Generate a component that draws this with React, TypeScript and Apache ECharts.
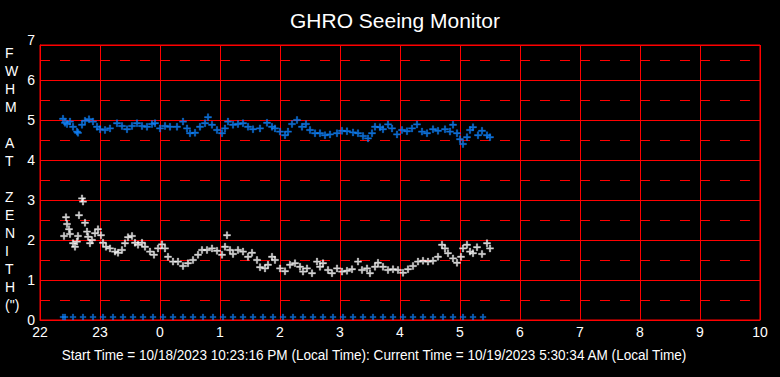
import React, { useEffect, useRef } from "react";
import * as echarts from "echarts";

// minutes after 22:00 (local time)
const blueTimes = [23,25,27,30,33,37,38,42,45,49,53,57,60,65,70,77,82,87,92,97,102,107,112,115,120,125,130,137,143,147,150,155,160,165,168,172,177,182,185,188,193,198,203,208,213,220,227,232,235,240,245,248,252,257,262,266,270,275,280,285,290,297,302,307,313,318,323,328,332,335,340,343,348,352,357,362,367,372,377,382,387,393,398,405,410,413,417,420,423,427,430,433,438,442,447,450];
const blueValues = [5.03,4.93,4.90,4.96,4.83,4.71,4.68,4.88,4.98,5.02,4.96,4.83,4.77,4.75,4.79,4.92,4.85,4.77,4.85,4.92,4.85,4.83,4.90,4.92,4.79,4.85,4.83,4.83,4.96,4.79,4.67,4.68,4.83,4.92,5.07,4.88,4.75,4.67,4.79,4.96,4.88,4.90,4.92,4.83,4.77,4.79,4.93,4.83,4.79,4.71,4.62,4.71,4.90,5.00,4.83,4.90,4.75,4.67,4.67,4.62,4.64,4.67,4.73,4.72,4.69,4.67,4.60,4.54,4.67,4.83,4.82,4.77,4.89,4.79,4.64,4.75,4.72,4.79,4.89,4.71,4.67,4.77,4.73,4.77,4.71,4.88,4.67,4.52,4.40,4.57,4.75,4.82,4.62,4.73,4.62,4.57];

const whiteTimes = [24,26,27,29,30,33,35,37,38,39,42,43,45,47,48,50,52,55,58,61,63,66,70,75,78,82,85,88,92,95,98,102,105,110,114,118,122,125,128,133,138,143,148,153,158,162,167,172,177,182,185,187,190,193,198,203,208,212,217,220,225,228,232,235,240,245,250,255,260,263,267,272,277,280,283,288,292,297,302,307,312,318,322,327,330,335,338,343,348,353,358,363,368,373,378,383,388,393,398,402,405,408,413,417,421,423,427,430,433,437,442,447,450];
const whiteValues = [2.10,2.57,2.40,2.27,2.15,1.92,1.83,1.96,2.10,2.62,3.04,2.96,2.43,2.21,2.08,1.92,2.00,2.17,2.27,2.12,1.93,1.83,1.79,1.71,1.68,1.75,1.92,2.07,2.10,1.93,1.88,1.93,1.83,1.71,1.63,1.79,1.89,1.79,1.58,1.46,1.46,1.35,1.42,1.50,1.63,1.75,1.75,1.79,1.73,1.63,1.83,2.12,1.75,1.65,1.75,1.71,1.58,1.68,1.50,1.32,1.29,1.38,1.58,1.50,1.29,1.22,1.38,1.42,1.33,1.21,1.29,1.17,1.46,1.33,1.42,1.25,1.17,1.29,1.21,1.23,1.27,1.46,1.25,1.29,1.17,1.33,1.43,1.33,1.25,1.27,1.25,1.18,1.27,1.35,1.46,1.48,1.46,1.48,1.58,1.88,1.79,1.67,1.54,1.43,1.58,1.79,1.88,1.71,1.67,1.82,1.65,1.92,1.79];

const baseTimes = [23,25,33,43,53,63,73,83,93,103,113,123,133,143,153,163,173,183,193,203,213,223,233,243,253,263,273,283,293,303,313,323,333,343,353,363,373,383,393,403,413,423,433,443];
const baseValue = 0;

const titleText = "GHRO Seeing Monitor";
const yTitleLines = ["F", "W", "H", "M", "", "A", "T", "", "Z", "E", "N", "I", "T", "H", "(\")"];
const footerText = "Start Time = 10/18/2023 10:23:16 PM (Local Time): Current Time = 10/19/2023 5:30:34 AM (Local Time)";
const startHour = 22;
const xMaxMinutes = 720;
const yTopLabel = "7";

const FONT = "'Liberation Sans', Arial, sans-serif";
const RED = "#ff0000";
const BLUE = "#1184ff";
const PLUS = "path://M2,0h1v2h2v1h-2v2h-1v-2h-2v-1h2z";

export default function App() {
  const ref = useRef<HTMLDivElement>(null);
  useEffect(() => {
    if (!ref.current) return;
    const chart = echarts.init(ref.current, null, { renderer: "svg" });
    const pairs = (t: number[], v: number[]) => t.map((x, i) => [x, v[i]]);
    chart.setOption({
      animation: false,
      backgroundColor: "#000",
      grid: { left: 40, top: 45, width: 720, height: 275, show: true, borderColor: RED, borderWidth: 1, backgroundColor: "transparent" },
      xAxis: {
        type: "value",
        min: 0,
        max: xMaxMinutes,
        interval: 60,
        axisLine: { show: true, lineStyle: { color: RED } },
        axisTick: { show: false },
        axisLabel: {
          color: "#fff",
          fontSize: 14,
          fontFamily: FONT,
          margin: 5,
          formatter: (v: number) => String((startHour + Math.round(v / 60)) % 24),
        },
        splitLine: { show: true, lineStyle: { color: RED, width: 1, type: "solid" } },
      },
      yAxis: [
        {
          type: "value",
          min: 0,
          max: 6.875,
          interval: 1,
          axisLine: { show: true, lineStyle: { color: RED } },
          axisTick: { show: false },
          axisLabel: {
            color: "#fff",
            fontSize: 14,
            fontFamily: FONT,
            margin: 5,
            formatter: (v: number) => (Number.isInteger(v) ? String(v) : ""),
          },
          splitLine: { show: true, lineStyle: { color: RED, width: 1, type: "solid" } },
          z: 3,
        },
        {
          type: "value",
          min: 0,
          max: 6.875,
          interval: 0.5,
          position: "left",
          axisLine: { show: false },
          axisTick: { show: false },
          axisLabel: { show: false },
          splitLine: { show: true, lineStyle: { color: RED, width: 1, type: [10, 10] } },
          z: 1,
        },
      ],
      graphic: [
        {
          type: "text",
          x: 395,
          y: 21,
          scaleX: 1.05,
          originX: 0,
          style: {
            text: titleText,
            fill: "#fff",
            fontSize: 20,
            fontFamily: FONT,
            align: "center",
            verticalAlign: "middle",
          },
        },
        {
          type: "text",
          left: 5,
          top: 44,
          style: {
            text: yTitleLines.join("\n"),
            fill: "#fff",
            fontSize: 14,
            fontFamily: FONT,
            lineHeight: 18,
            align: "center",
          },
        },
        {
          type: "text",
          x: 35,
          y: 40,
          style: { text: yTopLabel, fill: "#fff", fontSize: 14, fontFamily: FONT, align: "right", verticalAlign: "middle" },
        },
        {
          type: "text",
          x: 374,
          y: 355,
          scaleX: 0.97,
          originX: 0,
          style: {
            text: footerText,
            fill: "#fff",
            fontSize: 14,
            fontFamily: FONT,
            align: "center",
            verticalAlign: "middle",
          },
        },
      ],
      series: [
        {
          type: "scatter",
          data: pairs(blueTimes, blueValues),
          symbol: PLUS,
          symbolSize: 7,
          itemStyle: { color: BLUE, borderColor: BLUE, borderWidth: 0.4 },
          z: 5,
        },
        {
          type: "scatter",
          data: pairs(whiteTimes, whiteValues),
          symbol: PLUS,
          symbolSize: 7,
          itemStyle: { color: "#fff", borderColor: "#fff", borderWidth: 0.4 },
          z: 5,
        },
        {
          type: "scatter",
          data: baseTimes.map((t) => [t, baseValue]),
          symbol: PLUS,
          symbolSize: 6,
          symbolOffset: [0, -3],
          itemStyle: { color: BLUE, borderColor: BLUE, borderWidth: 0.4 },
          z: 5,
        },
      ],
    });
    return () => chart.dispose();
  }, []);
  return (
    <div style={{ position: "fixed", left: 0, top: 0, width: 780, height: 377, background: "#000" }}>
      <div ref={ref} style={{ width: 780, height: 377 }} />
    </div>
  );
}
